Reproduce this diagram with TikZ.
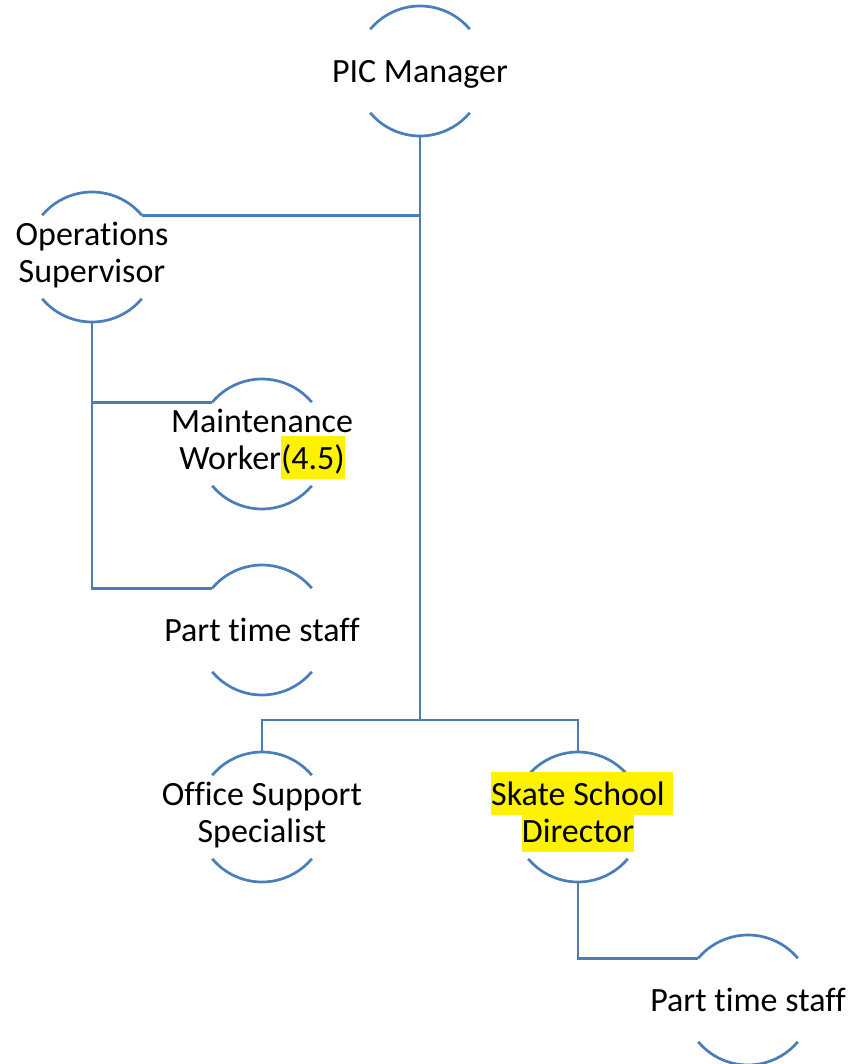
\documentclass[tikz,border=0pt]{standalone}
\usepackage{fontspec}
\setmainfont{Carlito}[Ligatures=NoCommon]
\definecolor{lineblue}{RGB}{74,126,187}
\setlength{\fboxsep}{0pt}
\newcommand{\hl}[1]{\smash{\colorbox{yellow}{\rule[-9pt]{0pt}{43pt}#1}}}
\newcommand{\hlsp}{\rlap{\smash{\colorbox{yellow}{\rule[-9pt]{0pt}{43pt}\hspace{7.7pt}}}}}
\begin{document}
\begin{tikzpicture}[
  unit/.style={circle, minimum size=130pt, inner sep=0pt, outer sep=0pt},
  txt/.style={align=center, inner sep=0pt, font=\fontsize{34}{37}\selectfont},
  one/.style={yshift=-4pt},
  link/.style={draw=lineblue, line width=2.7pt},
  rim/.style={draw=lineblue, line width=2.7pt}
]
\useasboundingbox (0,0) rectangle (851pt,-1064pt);
% unit outlines
\node[unit] (pic) at (420pt,-71pt) {};
\node[unit] (ops) at (92pt,-257pt) {};
\node[unit] (mw)  at (262pt,-444pt) {};
\node[unit] (pt1) at (262pt,-630pt) {};
\node[unit] (oss) at (262pt,-817pt) {};
\node[unit] (ssd) at (578pt,-817pt) {};
\node[unit] (pt2) at (748pt,-1000pt) {};
\coordinate (bus) at (420pt,-720pt);
\foreach \n in {pic,ops,mw,pt1,oss,ssd,pt2}{
  \draw[rim] (\n.40) arc[start angle=40, end angle=140, radius=65pt];
  \draw[rim] (\n.220) arc[start angle=220, end angle=320, radius=65pt];
}
% texts
\node[txt,one] (pic-t) at (pic) {\strut PIC Manager};
\node[txt] (ops-t) at (ops) {\strut Operations\\\strut Supervisor};
\node[txt] (mw-t) at (mw) {\strut Maintenance\\\strut Worker\hl{(4.5)}};
\node[txt,one] (pt1-t) at (pt1) {\strut Part time staff};
\node[txt] (oss-t) at (oss) {\strut Office Support\\\strut Specialist};
\node[txt] (ssd-t) at (ssd) {\strut\hl{Skate School}\hlsp\\\strut\hl{Director}};
\node[txt,one] (pt2-t) at (pt2) {\strut Part time staff};
% connectors
\draw[link] (pic.south) -- (bus);
\draw[link] (ops.40) -| (pic.south);
\draw[link] (oss.north) |- (bus) -| (ssd.north);
\draw[link] (ops.south) |- (pt1.140);
\draw[link] (mw.140) -| (ops.south);
\draw[link] (ssd.south) |- (pt2.140);
\end{tikzpicture}
\end{document}
